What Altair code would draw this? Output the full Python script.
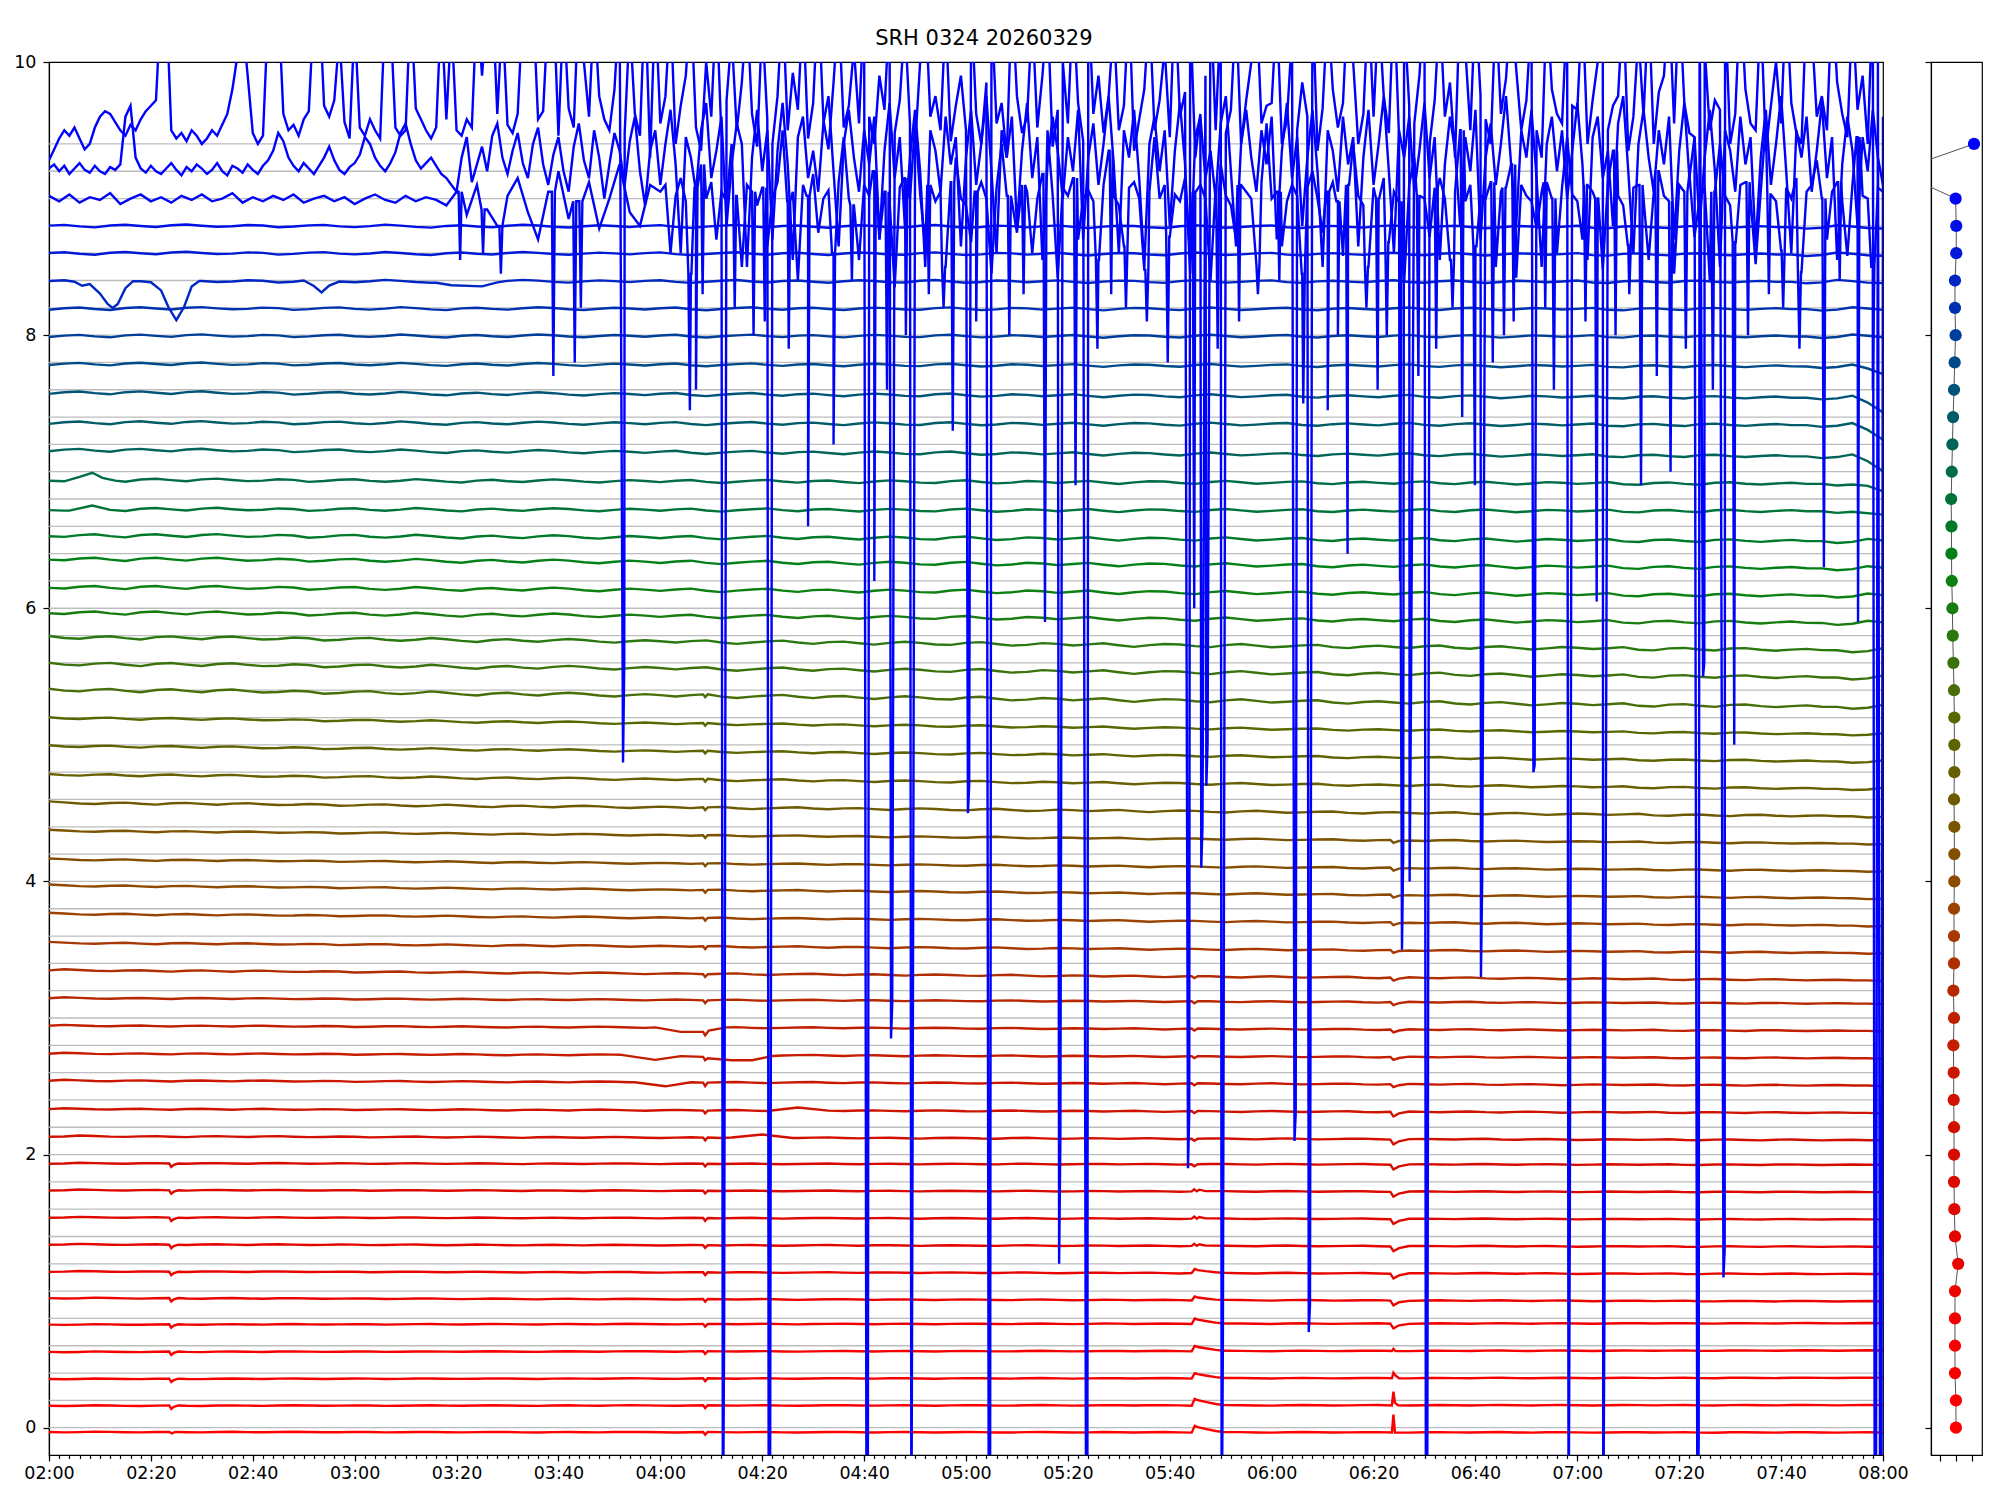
import altair as alt
import pandas as pd

alt.data_transformers.disable_max_rows()

TITLE = "SRH 0324 20260329"

# nominal channel levels (stack offsets)
LEVELS = [0.0, 0.2, 0.4, 0.6, 0.8, 1.0, 1.2, 1.4, 1.6, 1.8, 2.0, 2.2, 2.4, 2.6, 2.8, 3.0,
          3.2, 3.4, 3.6, 3.8, 4.0, 4.2, 4.4, 4.6, 4.8, 5.0, 5.2, 5.4, 5.6, 5.8, 6.0, 6.2,
          6.4, 6.6, 6.8, 7.0, 7.2, 7.4, 7.6, 7.8, 8.0, 8.2, 8.4, 8.6, 8.8, 9.0, 9.2, 9.4]

COLORS = ["#ff0000", "#fb0000", "#f70100", "#f30200", "#ef0300", "#eb0400", "#e70500", "#e30600",
          "#df0800", "#db0a00", "#d60c00", "#d21000", "#ce1400", "#ca1800", "#c61c00", "#c02000",
          "#b82800", "#b02e00", "#a63800", "#9a4200", "#8e4a00", "#844e00", "#7a5400", "#6e5a00",
          "#666000", "#5e6400", "#546a00", "#486e08", "#3a720c", "#2a7810", "#187c10", "#0c8010",
          "#028018", "#007a28", "#007438", "#006c48", "#006458", "#005c68", "#005478", "#004a88",
          "#003e9c", "#0032b0", "#0026c4", "#001ad6", "#0010e6", "#0006f4", "#0000ff", "#0000ff"]

# level of each trace relative to its channel line at 02:00 and at 08:00
START_OFF = [-0.032, -0.039, -0.043, -0.045, -0.045, -0.051, -0.056, -0.058, -0.060, -0.060,
             -0.064, -0.066, -0.066, -0.058, -0.060, -0.056, -0.054, -0.050, -0.050, -0.037,
             -0.030, -0.039, -0.029, -0.024, -0.017, -0.007, -0.002, 0.005, -0.005, -0.010,
             -0.030, -0.044, -0.037, -0.066, -0.075, -0.060, -0.040, -0.040, -0.020, -0.010,
             -0.005, -0.005, -0.005, 0.0, 0.0, 0.0, 0.0, 0.0]
END_OFF = [-0.035, -0.035, -0.035, -0.035, -0.035,
           -0.075, -0.075, -0.075, -0.075, -0.075, -0.075,
           -0.095, -0.095, -0.095, -0.095, -0.095, -0.095,
           -0.125, -0.125, -0.125, -0.125, -0.125, -0.125, -0.125, -0.125, -0.125, -0.125, -0.125,
           -0.11, -0.11, -0.11, -0.11, -0.11, -0.11,
           -0.09, -0.09, -0.09, -0.06, -0.06, -0.03,
           -0.01, -0.01, -0.01, -0.01, -0.01, 0.0, 0.0, 0.0]
WIG_AMP = [0.004, 0.004, 0.004, 0.004, 0.004,
           0.005, 0.005, 0.005, 0.005, 0.005, 0.005,
           0.007, 0.007, 0.007, 0.007, 0.007, 0.007,
           0.009, 0.009, 0.009, 0.009, 0.009, 0.009,
           0.013, 0.013, 0.013, 0.013,
           0.022, 0.022, 0.022, 0.022, 0.022, 0.022, 0.022,
           0.02, 0.02, 0.02, 0.02, 0.02,
           0.018, 0.018, 0.018, 0.018, 0.018, 0.018, 0.0, 0.0, 0.0]

# slow wiggle shared by the quiet traces, one value every 3 minutes
WIG = [0, -0.6, -0.2, 0.8, 0.3, -0.3, -0.5, 0.1, 0.4, -0.2,
       -0.6, 0.2, 0.5, 0.0, -0.4, 0.3, 0.6, 0.1, -0.3, -0.1,
       0.4, 0.2, -0.5, -0.2, 0.3, 0.5, -0.1, -0.4, 0.0, 0.6,
       0.2, -0.3, -0.6, 0.1, 0.4, -0.1, -0.4, 0.2, 0.6, 0.3,
       -0.2, -0.5, 0.0, 0.4, 0.1, -0.3, 0.2, 0.5, -0.2, -0.6,
       -0.1, 0.3, 0.6, 0.0, -0.4, 0.2, 0.4, -0.1, -0.5, 0.1,
       0.5, 0.2, -0.3, -0.4, 0.3, 0.6, 0.0, -0.5, -0.2, 0.4,
       0.2, -0.3, 0.1, 0.5, -0.1, -0.6, 0.0, 0.4, 0.3, -0.2,
       -0.5, 0.2, 0.6, 0.1, -0.4, -0.1, 0.3, 0.5, -0.2, -0.5,
       0.1, 0.4, 0.0, -0.3, 0.3, 0.6, -0.1, -0.4, 0.2, 0.5,
       0.0, -0.5, -0.1, 0.4, 0.2, -0.2, 0.1, 0.5, -0.3, -0.5,
       0.2, 0.4, -0.1, -0.4, 0.3, 0.5, 0.0, -0.3, 0.1, 0.4,
       0.0]

# local features: (first channel, last channel, [(minute after 02:00, change), ...])
EVENTS = [
    (0, 0, [(23.6, 0.0), (24.1, -0.012), (24.8, 0.0)]),
    (1, 10, [(23.6, 0.0), (24.0, -0.025), (24.5, -0.01), (25.4, 0.0)]),
    (0, 12, [(128.4, 0.0), (128.8, -0.02), (129.3, 0.0)]),
    (16, 27, [(128.4, 0.0), (128.8, -0.02), (129.3, 0.0)]),
    (15, 15, [(119.0, 0.0), (124.0, -0.035), (128.4, -0.03), (128.8, -0.055), (129.5, -0.02), (133.0, 0.0)]),
    (14, 14, [(112.0, 0.0), (119.0, -0.035), (124.0, -0.01), (128.4, -0.01), (128.8, -0.035),
              (129.3, -0.02), (134.0, -0.04), (138.0, -0.035), (142.0, 0.0)]),
    (13, 13, [(115.0, 0.0), (121.0, -0.03), (126.0, 0.0), (128.4, 0.0), (128.8, -0.025), (129.3, 0.0)]),
    (12, 12, [(141.0, 0.0), (147.0, 0.02), (153.0, 0.0)]),
    (11, 11, [(134.0, 0.0), (140.0, 0.025), (146.0, 0.0)]),
    (0, 1, [(224.3, 0.0), (224.9, 0.05), (225.5, 0.04), (227.0, 0.025), (229.0, 0.01), (230.6, 0.0)]),
    (2, 4, [(224.3, 0.0), (224.9, 0.04), (225.5, 0.032), (227.0, 0.02), (229.0, 0.008), (230.6, 0.0)]),
    (5, 6, [(224.3, 0.0), (224.9, 0.03), (225.5, 0.022), (227.0, 0.012), (229.0, 0.004), (230.6, 0.0)]),
    (7, 9, [(224.3, 0.0), (224.8, 0.015), (225.3, 0.0), (225.8, 0.012), (227.0, 0.0)]),
    (10, 17, [(224.3, 0.0), (224.8, -0.015), (225.5, 0.0)]),
    (0, 0, [(263.6, 0.0), (263.9, 0.13), (264.2, 0.0)]),
    (1, 1, [(263.6, 0.0), (263.9, 0.1), (264.2, 0.02), (264.8, 0.0)]),
    (2, 2, [(263.6, 0.0), (263.9, 0.04), (264.3, 0.02), (265.0, 0.0)]),
    (3, 3, [(263.6, 0.0), (263.9, 0.015), (264.3, 0.0)]),
    (4, 12, [(263.3, 0.0), (263.9, -0.035), (265.0, -0.012), (267.0, 0.0)]),
    (13, 22, [(263.3, 0.0), (263.9, -0.022), (265.0, -0.008), (267.0, 0.0)]),
    (42, 42, [(5.0, 0.0), (6.5, -0.03), (8.0, -0.01), (10.0, -0.08), (11.5, -0.17), (12.5, -0.2),
              (13.5, -0.17), (15.0, -0.06), (16.5, 0.0)]),
    (42, 42, [(20.0, 0.0), (22.0, -0.06), (23.5, -0.2), (25.0, -0.29), (26.5, -0.2), (28.0, -0.05), (29.5, 0.0)]),
    (42, 42, [(50.0, 0.0), (52.0, -0.04), (53.5, -0.09), (55.0, -0.04), (57.0, 0.0)]),
    (42, 42, [(76.0, 0.0), (79.0, -0.03), (85.0, -0.035), (88.0, 0.0)]),
    (35, 35, [(3.0, 0.0), (6.0, 0.02), (8.5, 0.045), (10.5, 0.02), (13.0, 0.0)]),
    (34, 34, [(4.0, 0.0), (8.5, 0.02), (12.0, 0.0)]),
    (34, 34, [(354.0, 0.0), (360.0, -0.03)]),
    (35, 35, [(354.0, 0.0), (357.0, -0.03), (360.0, -0.06)]),
    (36, 38, [(354.0, 0.0), (357.0, -0.04), (360.0, -0.1)]),
    (39, 39, [(354.0, 0.0), (357.0, -0.02), (360.0, -0.05)]),
]

# noisy top traces, hundredths, one value per minute from 02:00 (channels 9.4 and 9.2)
NOISE_A = [
    928, 936, 944, 950, 946, 952, 944, 936, 940, 952, 960, 964, 962, 956, 950, 946, 954, 950, 958, 964,
    968, 972, 1045, 1050, 950, 944, 948, 942, 950, 946, 940, 944, 950, 946, 954, 962, 980, 1005, 1030, 990,
    948, 940, 946, 1035, 1000, 1045, 962, 950, 954, 946, 958, 964, 1040, 1050, 968, 960, 972, 1020, 956, 944,
    1030, 952, 946, 958, 950, 944, 1040, 1035, 952, 946, 950, 1045, 966, 958, 950, 944, 952, 1040, 958, 1030,
    950, 946, 958, 952, 1045, 990, 1040, 1050, 962, 1035, 954, 948, 962, 1040, 1050, 1045, 958, 964, 1040, 1050,
    946, 1040, 966, 952, 1050, 1000, 960, 1040, 975, 958, 950, 980, 1045, 948, 1030, 962, 946, 1050, 930, 1045,
    955, 975, 1040, 940, 968, 990, 1045, 952, 935, 1000, 960, 1045, 945, 972, 1020, 950, 985, 1040, 962, 938,
    1030, 958, 940, 975, 1045, 950, 992, 965, 1040, 944, 970, 1050, 958, 936, 985, 1040, 952, 968, 1010, 955,
    1045, 960, 940, 990, 965, 1040, 948, 972, 1030, 955, 938, 1000, 1045, 960, 975, 950, 1035, 942, 968, 990,
    950, 1045, 962, 940, 985, 1040, 955, 970, 930, 1050, 975, 948, 960, 1035, 952, 990, 1040, 938, 965, 1000,
    955, 1045, 970, 942, 1050, 962, 990, 948, 975, 1030, 950, 968, 1045, 935, 958, 980, 1040, 950, 972, 1010,
    945, 1050, 960, 978, 1040, 930, 962, 990, 1050, 950, 1035, 948, 965, 1040, 940, 972, 1000, 1045, 955, 968,
    970, 1040, 940, 958, 1020, 950, 985, 960, 1050, 935, 966, 1040, 980, 952, 970, 1050, 1000, 940, 962, 1045,
    960, 1040, 975, 948, 1050, 945, 1035, 968, 955, 990, 1050, 940, 972, 1040, 960, 985, 930, 1050, 1010, 950,
    1045, 975, 958, 940, 1040, 962, 988, 1045, 995, 950, 972, 1035, 950, 930, 1045, 980, 962, 955, 1040, 968,
    965, 1045, 940, 972, 1000, 1040, 950, 968, 975, 1045, 935, 960, 1020, 960, 1045, 940, 978, 990, 1045, 955,
    1050, 970, 948, 945, 1050, 1010, 950, 972, 965, 1045, 940, 962, 1050, 980, 955, 950, 1040, 935, 968, 1000,
    955, 1050, 970, 948, 940, 1045, 1025, 960, 975, 950, 1050, 985, 962, 945, 1040, 965, 990, 940, 1050, 1000,
    960,
]
NOISE_B = [
    922, 925, 920, 924, 918, 922, 926, 921, 919, 924, 920, 918, 923, 921, 925, 960, 968, 930, 922, 919,
    924, 920, 918, 922, 926, 921, 917, 923, 920, 925, 922, 918, 921, 926, 920, 917, 924, 922, 919, 925,
    921, 918, 924, 928, 935, 948, 942, 930, 924, 920, 926, 922, 918, 924, 930, 938, 928, 921, 918, 923,
    926, 932, 945, 940, 930, 924, 920, 926, 934, 948, 955, 940, 928, 922, 926, 930, 924, 918, 915, 910,
    905, 930, 945, 912, 925, 938, 920, 946, 955, 930, 918, 935, 948, 926, 915, 940, 952, 925, 910, 932,
    945, 920, 905, 938, 955, 928, 915, 950, 930, 900, 925, 948, 935, 910, 942, 960, 920, 895, 935, 950,
    910, 940, 965, 925, 860, 945, 930, 905, 950, 970, 915, 935, 960, 880, 925, 955, 940, 850, 930, 965,
    920, 950, 870, 935, 970, 925, 855, 945, 960, 915, 935, 905, 955, 975, 920, 865, 940, 965, 930, 905,
    950, 925, 960, 870, 935, 970, 915, 945, 880, 930, 965, 920, 850, 950, 935, 905, 960, 925, 945, 865,
    930, 965, 910, 940, 975, 920, 860, 950, 930, 960, 880, 935, 970, 915, 945, 855, 925, 960, 935, 900,
    945, 920, 965, 870, 930, 955, 910, 940, 975, 925, 860, 950, 930, 965, 915, 850, 940, 960, 920, 950,
    880, 935, 970, 925, 845, 945, 960, 915, 935, 900, 955, 975, 920, 865, 940, 965, 930, 905, 950, 925,
    960, 870, 935, 970, 915, 945, 880, 930, 965, 920, 850, 950, 935, 905, 960, 925, 945, 865, 930, 965,
    910, 940, 975, 920, 860, 950, 930, 960, 905, 935, 970, 915, 945, 855, 925, 960, 935, 880, 945, 920,
    965, 870, 930, 955, 910, 940, 975, 925, 880, 950, 930, 965, 915, 850, 940, 960, 920, 950, 900, 935,
    970, 925, 855, 945, 960, 915, 935, 880, 955, 975, 920, 860, 940, 965, 930, 905, 950, 925, 960, 870,
    935, 970, 915, 945, 880, 930, 965, 920, 850, 950, 935, 905, 960, 925, 945, 865, 930, 965, 910, 940,
    975, 920, 860, 950, 930, 960, 905, 935, 970, 915, 945, 855, 925, 960, 935, 880, 945, 920, 965, 930, 910,
]
# channel 9.0, hundredths: every 2 minutes from 02:00 to 03:58, then every minute from 04:00
NOISE_C_EARLY = [
    902, 898, 903, 897, 901, 899, 904, 896, 900, 903, 898, 901, 897, 902, 899, 903, 898, 900, 904, 897,
    901, 898, 902, 899, 903, 897, 900, 902, 898, 901, 896, 900, 903, 899, 897, 902, 898, 901, 899,
    895, 905, 888, 910, 892, 880, 902, 915, 890, 870, 905, 920, 885, 898, 912, 878, 900, 925, 890, 880, 910,
]
NOISE_C_LATE = [
    905, 910, 860, 902, 915, 898, 845, 908, 925, 900, 912, 870, 905, 898, 940, 902, 850, 910, 905, 895,
    908, 865, 900, 912, 950, 898, 905, 840, 910, 902, 918, 875, 900, 906, 860, 912, 945, 900, 895, 855,
    910, 902, 920, 870, 905, 898, 835, 908, 915, 900, 955, 903, 865, 910, 898, 905, 850, 912, 930, 900,
    895, 868, 905, 912, 900, 845, 908, 940, 902, 898, 875, 910, 905, 860, 900, 918, 950, 903, 842, 908,
    902, 915, 870, 900, 906, 898, 855, 910, 935, 902, 895, 865, 908, 912, 900, 848, 905, 945, 900, 910,
    872, 903, 898, 915, 858, 905, 910, 900, 840, 908, 925, 902, 895, 870, 910, 905, 900, 852, 912, 955,
    900, 905, 865, 898, 910, 902, 845, 908, 920, 900, 875, 905, 912, 898, 858, 910, 940, 902, 895, 850,
    908, 900, 915, 868, 905, 898, 838, 910, 930, 902, 900, 872, 908, 915, 900, 855, 905, 950, 898, 910,
    865, 902, 900, 912, 850, 905, 908, 925, 842, 910, 902, 898, 878, 905, 912, 900, 860, 908, 945, 903,
    898, 870, 910, 905, 900, 848, 912, 935, 902, 895, 866, 908, 910, 900, 855, 905, 920, 902, 898, 845,
    910, 905, 918, 872, 900, 908, 840, 905, 940, 902, 895, 868, 910, 912, 900, 852, 905, 955, 903, 898,
    862, 908, 900, 915, 846, 905, 910, 928, 900, 870, 905, 912, 898, 858, 910, 945, 902, 900, 850, 908, 905,
]
# deep drops of the top trace: (minute, low value, value on the way back)
DEEP_SPIKES = [
    (112.8, 4.87, 5.6), (132.4, -1.0, 0.7), (141.4, -1.0, -1.0), (160.6, -1.0, -1.0),
    (165.4, 2.85, 3.1), (169.4, -1.0, 2.2), (180.5, 4.5, 4.7), (184.6, -1.0, -1.0),
    (198.4, 1.2, 2.1), (203.7, -1.0, -1.0), (223.7, 1.9, 2.3), (226.3, 4.1, 4.4),
    (227.3, 4.7, 5.0), (230.3, -1.0, 0.6), (244.6, 2.1, 2.3), (247.4, 0.7, 0.9),
    (265.7, 3.5, 4.2), (267.2, 4.0, 5.2), (270.4, -1.0, -1.0), (281.2, 3.3, 4.0),
    (291.5, 4.8, 4.85), (298.4, -1.0, 1.5), (305.2, -1.0, 0.9), (323.7, -1.0, -0.1),
    (324.8, 5.5, 5.6), (328.8, 1.1, 1.3), (358.5, -1.0, -1.0), (359.55, -1.0, -1.0),
]
# shallower drops of the 9.0 trace: (minute, low value)
MID_DIPS = [
    (80.7, 8.55), (85.2, 8.6), (88.7, 8.45), (99.0, 7.7), (103.2, 7.8), (104.4, 8.2),
    (125.8, 7.45), (127.0, 7.6), (128.3, 8.3), (134.6, 8.2), (138.3, 8.0), (140.5, 8.1),
    (145.2, 7.9), (149.0, 6.6), (154.0, 7.2), (157.6, 8.4), (162.0, 6.2), (164.5, 7.6),
    (168.2, 8.0), (172.7, 8.3), (175.6, 8.2), (177.4, 7.3), (182.0, 8.1), (188.5, 8.0),
    (191.3, 8.3), (195.5, 5.9), (201.5, 6.9), (205.8, 7.9), (208.5, 8.3), (211.4, 8.2),
    (215.5, 8.1), (219.6, 7.8), (224.8, 6.0), (229.4, 7.9), (233.6, 8.1), (237.3, 8.3),
    (241.5, 8.4), (246.2, 7.5), (251.0, 7.45), (253.0, 8.0), (254.9, 6.4), (258.6, 8.2),
    (260.8, 7.6), (262.6, 8.0), (265.2, 6.2), (268.8, 7.7), (272.3, 7.9), (275.5, 8.2),
    (277.4, 7.4), (279.9, 6.9), (283.4, 7.8), (285.6, 8.0), (287.5, 8.1), (293.7, 8.2),
    (295.4, 7.6), (301.6, 8.1), (303.8, 6.05), (307.5, 8.0), (310.2, 8.3), (312.5, 6.9),
    (315.6, 7.7), (318.3, 7.0), (321.3, 7.9), (326.6, 7.6), (330.8, 5.0), (333.5, 8.0),
    (337.6, 8.3), (340.4, 8.2), (343.6, 7.9), (348.4, 6.3), (351.5, 8.4), (355.1, 5.9),
    (358.0, 7.6),
]

# right panel: horizontal position of each channel's dot
DOT_X = [0.0, 0.0, -0.06, -0.06, -0.06, -0.06, 0.14, -0.06, -0.1, -0.12,
         -0.12, -0.12, -0.14, -0.14, -0.16, -0.12, -0.16, -0.12, -0.12, -0.12,
         -0.1, -0.1, -0.1, -0.12, -0.1, -0.1, -0.1, -0.12, -0.16, -0.2,
         -0.22, -0.26, -0.28, -0.28, -0.3, -0.26, -0.22, -0.18, -0.12, -0.08,
         -0.02, -0.06, -0.06, 0.02, 0.02, -0.02, -3.75, 1.13]

MAJOR_TICKS = [0, 20, 40, 60, 80, 100, 120, 140, 160, 180, 200, 220, 240, 260, 280, 300, 320, 340, 360]
MINOR_TICKS = list(range(0, 361, 2))
Y_TICKS = [0, 2, 4, 6, 8, 10]
N_CH = len(LEVELS)
NAMES = ["c%02d" % k for k in range(N_CH)]

# ---------- build tables ----------
quiet_rows = []
n_w = len(WIG)
for k in range(45):
    def base_at(i, k=k):
        t = 3 * i
        return (LEVELS[k] + START_OFF[k] + (END_OFF[k] - START_OFF[k]) * t / 360.0
                + WIG_AMP[k] * WIG[(i + k // 6) % n_w])
    pts = {3 * i: base_at(i) for i in range(121)}
    for lo, hi, shape in EVENTS:
        if lo <= k <= hi:
            t0, t1 = shape[0][0], shape[-1][0]
            for t in [t for t in pts if t0 <= t <= t1]:
                del pts[t]
            for t, dv in shape:
                i = min(120, max(0, int(round(t / 3.0))))
                pts[t] = base_at(i) + dv
    for t in sorted(pts):
        quiet_rows.append({"ch": NAMES[k], "t": t, "v": pts[t]})
quiet_df = pd.DataFrame(quiet_rows)

c_pts = [(2 * i, c / 100.0) for i, c in enumerate(NOISE_C_EARLY)]
c_pts += [(120 + i, c / 100.0) for i, c in enumerate(NOISE_C_LATE)]

noisy_rows = [{"ch": NAMES[45], "t": t, "v": v} for t, v in c_pts]
for t, v in MID_DIPS:
    near = min(c_pts, key=lambda p: abs(p[0] - t))[1]
    noisy_rows.append({"ch": NAMES[45], "t": t - 0.3, "v": near})
    noisy_rows.append({"ch": NAMES[45], "t": t, "v": v})
    noisy_rows.append({"ch": NAMES[45], "t": t + 0.3, "v": near})
for i, b in enumerate(NOISE_B):
    noisy_rows.append({"ch": NAMES[46], "t": i, "v": b / 100.0})
for i, a in enumerate(NOISE_A):
    noisy_rows.append({"ch": NAMES[47], "t": i, "v": a / 100.0})
for t, v1, v2 in DEEP_SPIKES:
    noisy_rows.append({"ch": NAMES[47], "t": t - 0.12, "v": v1})
    noisy_rows.append({"ch": NAMES[47], "t": t + 0.12, "v": v2})
noisy_df = pd.DataFrame(noisy_rows)

grid_df = pd.DataFrame({"g": LEVELS})
minor_df = pd.DataFrame({"t": [0, 360]})
dots_df = pd.DataFrame({"ch": NAMES, "x": DOT_X, "y": LEVELS})

# ---------- chart ----------
FONT = "DejaVu Sans"
xscale = alt.Scale(domain=[0, 360], nice=False, zero=False)
yscale = alt.Scale(domain=[-0.2, 10], nice=False, zero=False)
cscale = alt.Scale(domain=NAMES, range=COLORS)

label_expr = ("(floor(datum.value/60)+2 < 10 ? '0' : '') + (floor(datum.value/60)+2) + ':' + "
              "(datum.value % 60 < 10 ? '0' : '') + (datum.value % 60)")
x_major = alt.Axis(values=MAJOR_TICKS, labelExpr=label_expr, tickSize=6, labelPadding=3,
                   labelFlush=False, grid=False, title=None, orient="bottom")
x_minor = alt.Axis(values=MINOR_TICKS, labels=False, tickSize=3.5, grid=False, title=None,
                   domain=False, orient="bottom")
y_axis = alt.Axis(values=Y_TICKS, tickSize=6, labelPadding=7, grid=False, title=None)

grid = alt.Chart(grid_df).mark_rule(color="#bdbdbd", strokeWidth=1.3).encode(
    y=alt.Y("g:Q", scale=yscale, axis=y_axis)
)
quiet = alt.Chart(quiet_df).mark_line(strokeWidth=2.4, clip=True).encode(
    x=alt.X("t:Q", scale=xscale, axis=x_major),
    y=alt.Y("v:Q", scale=yscale, axis=y_axis),
    color=alt.Color("ch:N", scale=cscale, legend=None),
    order=alt.Order("t:Q"),
)
noisy = alt.Chart(noisy_df).mark_line(strokeWidth=2.4, clip=True).encode(
    x=alt.X("t:Q", scale=xscale, axis=None),
    y=alt.Y("v:Q", scale=yscale, axis=y_axis),
    color=alt.Color("ch:N", scale=cscale, legend=None),
    order=alt.Order("t:Q"),
)
minor = alt.Chart(minor_df).mark_point(opacity=0).encode(
    x=alt.X("t:Q", scale=xscale, axis=x_minor)
)
main = alt.layer(grid, quiet, noisy, minor).resolve_axis(x="independent").properties(
    width=1834, height=1393
)

rx = alt.Scale(domain=[-1.56, 1.63], nice=False, zero=False)
rx_axis = alt.Axis(values=[-1, 0, 1], labels=False, tickSize=6, grid=False, title=None)
ry_axis = alt.Axis(values=Y_TICKS, labels=False, tickSize=6, grid=False, title=None)
link = alt.Chart(dots_df).mark_line(color="#555555", strokeWidth=1, clip=True).encode(
    x=alt.X("x:Q", scale=rx, axis=rx_axis),
    y=alt.Y("y:Q", scale=yscale, axis=ry_axis),
    order=alt.Order("y:Q"),
)
dots = alt.Chart(dots_df).mark_circle(size=150, opacity=1, clip=True).encode(
    x=alt.X("x:Q", scale=rx, axis=rx_axis),
    y=alt.Y("y:Q", scale=yscale, axis=ry_axis),
    color=alt.Color("ch:N", scale=cscale, legend=None),
)
right = alt.layer(link, dots).properties(width=51, height=1393)

chart = alt.hconcat(main, right, spacing=48, bounds="flush").properties(
    title=alt.TitleParams(text=TITLE, fontSize=21, font=FONT, fontWeight="normal",
                          anchor="middle", offset=3, dx=-14, color="black"),
    padding={"left": 5, "top": 20, "right": 5, "bottom": 5},
).configure_view(
    stroke="black", strokeWidth=1.2
).configure_axis(
    domainColor="black", tickColor="black", labelColor="black", labelFont=FONT,
    labelFontSize=17.5, domainWidth=1.2, tickWidth=1.2
)

chart.save("out.html", embed_options={"renderer": "svg", "actions": False})
